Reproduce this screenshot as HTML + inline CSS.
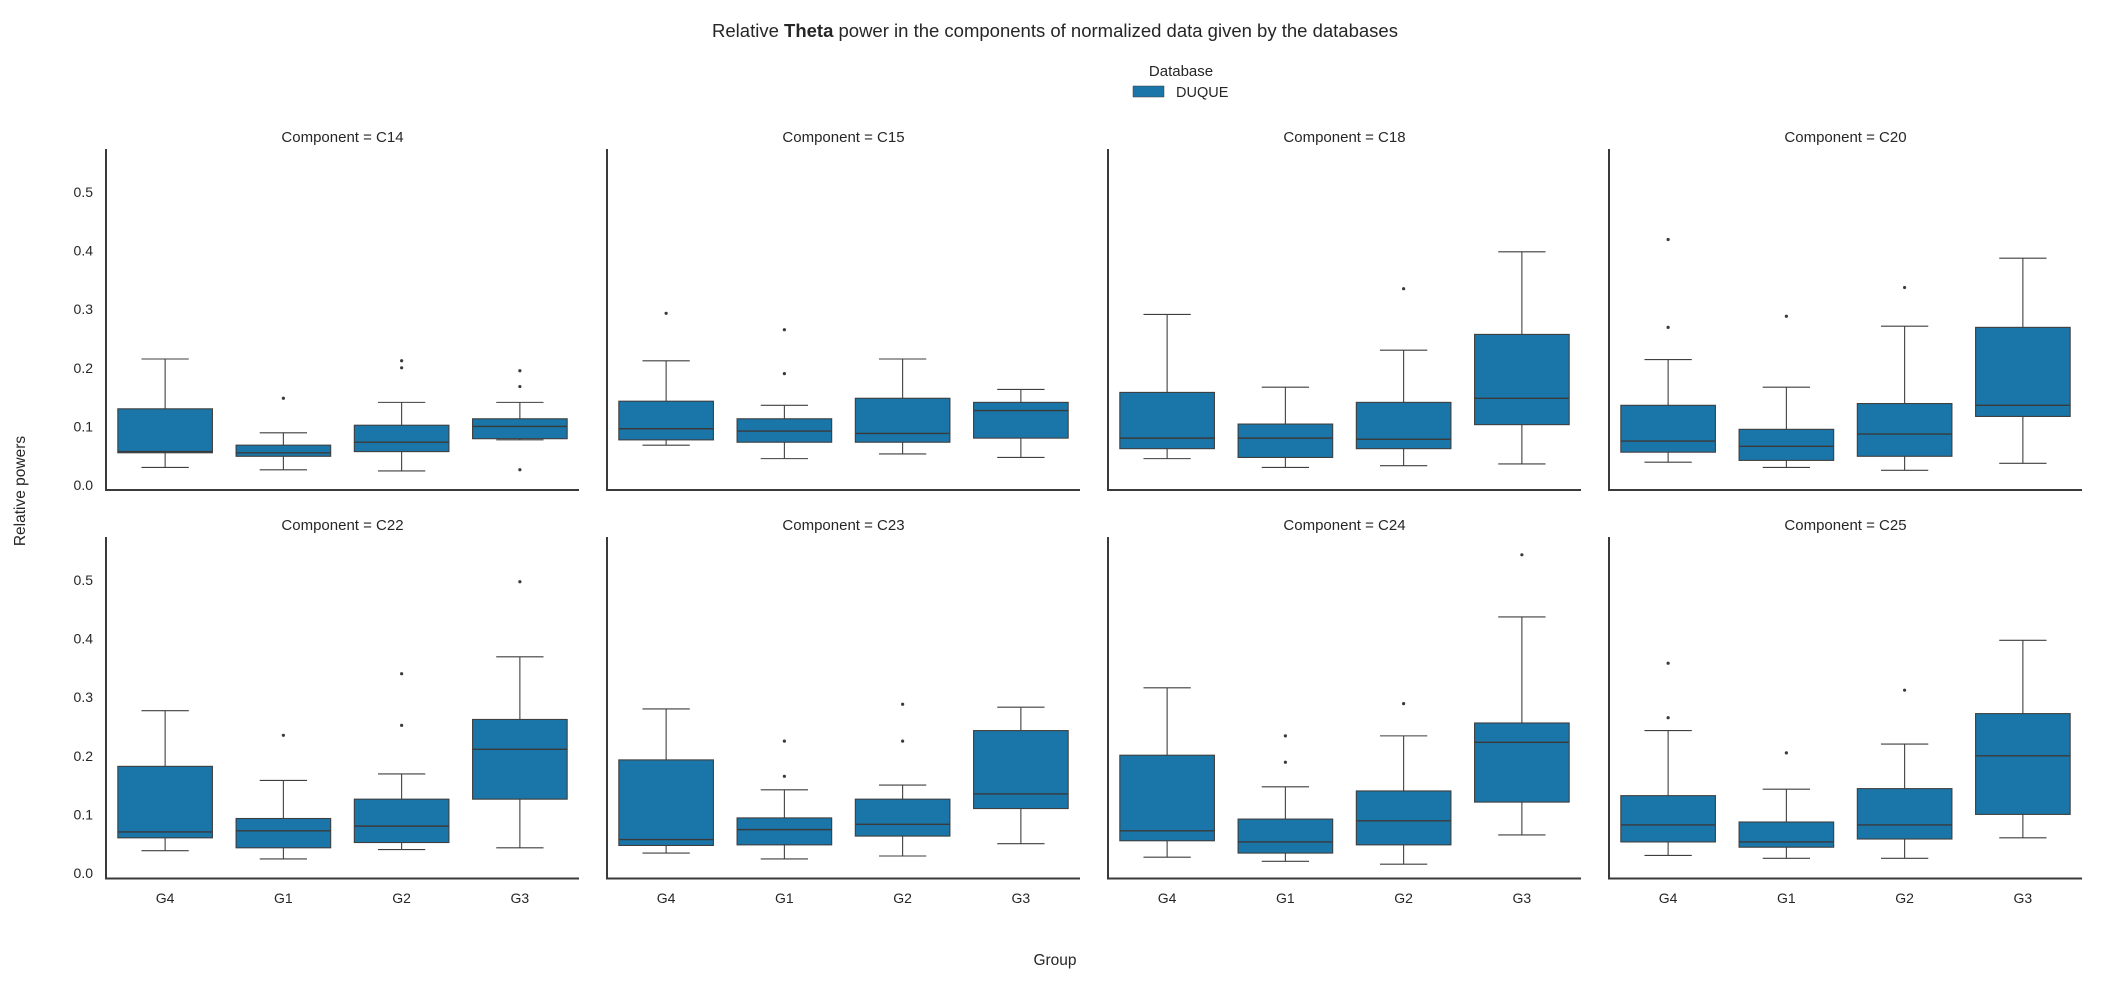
<!DOCTYPE html>
<html><head><meta charset="utf-8"><style>
html,body{margin:0;padding:0;background:#fff;}
svg{display:block;font-family:"Liberation Sans",Arial,sans-serif;}
</style></head><body>
<svg id="chart" width="2110" height="1000" viewBox="0 0 2110 1000" xmlns="http://www.w3.org/2000/svg">
<text x="1055" y="37" text-anchor="middle" font-size="18.5" fill="#262626">Relative <tspan font-weight="bold">Theta</tspan> power in the components of normalized data given by the databases</text>
<g>
<text x="1181" y="76" text-anchor="middle" font-size="15" fill="#262626">Database</text>
<rect x="1133" y="86" width="31" height="11" fill="#1a75a8" stroke="#3f3f3f" stroke-width="0.5"/>
<text x="1176" y="97" font-size="14.5" fill="#262626">DUQUE</text>
</g>
<text x="1055" y="965" text-anchor="middle" font-size="15.5" fill="#262626">Group</text>
<text transform="translate(25,491) rotate(-90)" text-anchor="middle" font-size="15.5" fill="#262626">Relative powers</text>
<g id="panels"></g>
</svg>
<script>
const components = ["C14","C15","C18","C20","C22","C23","C24","C25"];
const groups = ["G4","G1","G2","G3"];
const yTicks = [0.0,0.1,0.2,0.3,0.4,0.5];
const yTickLabels = ["0.0","0.1","0.2","0.3","0.4","0.5"];
// per component: per group [whiskerLow, q1, median, q3, whiskerHigh]
const C14 = [[.030,.055,.057,.130,.215],[.026,.049,.055,.068,.089],[.024,.057,.073,.102,.141],[.077,.079,.100,.113,.141]];
const C15 = [[.068,.077,.096,.143,.212],[.045,.073,.092,.113,.136],[.053,.073,.088,.148,.215],[.047,.080,.127,.141,.163]];
const C18 = [[.045,.062,.080,.158,.291],[.030,.047,.080,.104,.167],[.033,.062,.078,.141,.230],[.036,.103,.148,.257,.398]];
const C20 = [[.039,.056,.075,.136,.214],[.030,.042,.066,.095,.167],[.025,.049,.087,.139,.271],[.037,.117,.136,.269,.387]];
const C22 = [[.038,.060,.070,.182,.277],[.024,.043,.072,.093,.158],[.040,.052,.080,.126,.169],[.043,.126,.211,.262,.369]];
const C23 = [[.034,.047,.057,.193,.280],[.024,.048,.074,.094,.142],[.029,.063,.083,.126,.150],[.050,.110,.135,.243,.283]];
const C24 = [[.027,.055,.072,.201,.316],[.020,.034,.053,.092,.147],[.015,.048,.089,.140,.234],[.065,.121,.223,.256,.437]];
const C25 = [[.030,.053,.082,.132,.243],[.025,.044,.053,.087,.143],[.025,.058,.082,.144,.220],[.060,.100,.200,.272,.397]];
const outC14 = [[],[.148],[.200,.212],[.168,.195,.026]];
const outC15 = [[.293],[.190,.265],[],[]];
const outC18 = [[],[],[.335],[]];
const outC20 = [[.269,.419],[.288],[.337],[]];
const outC22 = [[],[.235],[.252,.340],[.497]];
const outC23 = [[],[.165,.225],[.225,.288],[]];
const outC24 = [[],[.189,.234],[.289],[.543]];
const outC25 = [[.265,.358],[.205],[.312],[]];
const stats = [C14,C15,C18,C20,C22,C23,C24,C25];
const outliers = [outC14,outC15,outC18,outC20,outC22,outC23,outC24,outC25];

const NS="http://www.w3.org/2000/svg";
const root=document.getElementById('panels');
const panelLeft=[106,607,1108,1609], panelW=473;
const rowTop=[149,537], rowZero=[485,873], pxPerUnit=586, rowBottom=[490,878.5];
function mk(tag,attrs,parent){const e=document.createElementNS(NS,tag);for(const k in attrs)e.setAttribute(k,attrs[k]);parent.appendChild(e);return e;}
components.forEach((comp,ci)=>{
  const row=Math.floor(ci/4), col=ci%4;
  const x0=panelLeft[col];
  const yS=v=>rowZero[row]-v*pxPerUnit;
  const band=panelW/groups.length;
  const xS=i=>x0+(i+0.5)*band;
  const g=mk('g',{},root);
  
  
  const t=mk('text',{x:x0+panelW/2,y:rowTop[row]-7,'text-anchor':'middle','font-size':'15','fill':'#262626'},g);
  t.textContent='Component = '+comp;
  
  
  const ya=mk('line',{x1:x0,y1:rowTop[row],x2:x0,y2:rowBottom[row],stroke:'#3a3a3a','stroke-width':'2'},g);
  
  
  const xa=mk('line',{x1:x0-1,y1:rowBottom[row],x2:x0+panelW,y2:rowBottom[row],stroke:'#3a3a3a','stroke-width':'2'},g);
  
  
  if(col===0){
    yTicks.forEach((v,k)=>{
      const tl=mk('text',{x:x0-13,y:yS(v)+5,'text-anchor':'end','font-size':'14','fill':'#262626'},g);
      tl.textContent=yTickLabels[k];
      
      
    });
  }
  if(row===1){
    groups.forEach((gr,i)=>{
      const tl=mk('text',{x:xS(i),y:903,'text-anchor':'middle','font-size':'14','fill':'#262626'},g);
      tl.textContent=gr;
      
      
    });
  }
  const bw=band*0.8;
  groups.forEach((gr,i)=>{
    const s=stats[ci][i], cx=xS(i);
    const bg=mk('g',{},g);
    
    
    const ln={stroke:'#3f3f3f','stroke-width':'1.1'};
    mk('line',Object.assign({x1:cx,y1:yS(s[0]),x2:cx,y2:yS(s[1])},ln),bg);
    mk('line',Object.assign({x1:cx,y1:yS(s[3]),x2:cx,y2:yS(s[4])},ln),bg);
    mk('line',Object.assign({x1:cx-bw/4,y1:yS(s[0]),x2:cx+bw/4,y2:yS(s[0])},ln),bg);
    mk('line',Object.assign({x1:cx-bw/4,y1:yS(s[4]),x2:cx+bw/4,y2:yS(s[4])},ln),bg);
    mk('rect',{x:cx-bw/2,y:yS(s[3]),width:bw,height:Math.max(0.5,yS(s[1])-yS(s[3])),fill:'#1a75a8',stroke:'#3f3f3f','stroke-width':'1.1'},bg);
    mk('line',{x1:cx-bw/2,y1:yS(s[2]),x2:cx+bw/2,y2:yS(s[2]),stroke:'#3a3a3a','stroke-width':'1.4'},bg);
    outliers[ci][i].forEach(v=>{
      const c=mk('circle',{cx:cx,cy:yS(v),r:1.6,fill:'#3a3a3a'},bg);
      
      
    });
  });
});
</script>
</body></html>
